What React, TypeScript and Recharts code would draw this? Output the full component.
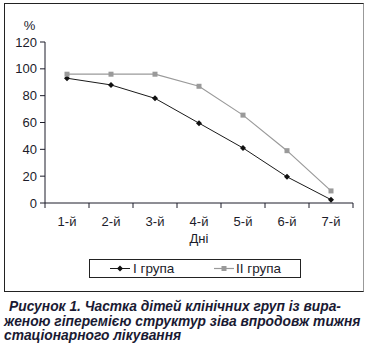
import React from "react";
import { LineChart, Line, XAxis, YAxis } from "recharts";

const days = ["1-й", "2-й", "3-й", "4-й", "5-й", "6-й", "7-й"];
const groupI = [93, 88, 78, 59.5, 41, 19.5, 2.5];
const groupII = [96, 96, 96, 87, 65.5, 39, 9];
const yTicks = [0, 20, 40, 60, 80, 100, 120];
const seriesNames = ["I група", "II група"];
const captionLines = [
  "Рисунок 1. Частка дітей клінічних груп із вира-",
  "женою гіперемією структур зіва впродовж тижня",
  "стаціонарного лікування",
];

const data = days.map((day, i) => ({ pos: i + 0.5, day, g1: groupI[i], g2: groupII[i] }));
// ticks at category boundaries (marks) and centres (labels)
const xTicks = days.flatMap((_, i) => [i, i + 0.5]).concat(days.length);

const FONT = "Arial, 'Liberation Sans', sans-serif";
const INK = "#1c1c2a";
const GREY = "#9a9a9a";

const DayTick = (props: any) => {
  const { x, y, payload } = props;
  const v = payload.value;
  if (Number.isInteger(v)) {
    return <line x1={x} x2={x} y1={y - 14} y2={y - 9} stroke={INK} strokeWidth={1} />;
  }
  return (
    <text x={x} y={y} dy="0.71em" textAnchor="middle" fontSize={13} fill={INK} fontFamily={FONT}>
      {days[Math.floor(v)]}
    </text>
  );
};

const Diamond = (props: any) => {
  const { cx, cy } = props;
  if (cx == null || cy == null) return null;
  return (
    <polygon
      points={`${cx},${cy - 3} ${cx + 3},${cy} ${cx},${cy + 3} ${cx - 3},${cy}`}
      fill="#111"
    />
  );
};

const Square = (props: any) => {
  const { cx, cy } = props;
  if (cx == null || cy == null) return null;
  return <rect x={cx - 2.5} y={cy - 2.5} width={5} height={5} fill={GREY} />;
};

export default function App() {
  return (
    <div
      style={{
        position: "absolute",
        left: 0,
        top: 0,
        width: 368,
        height: 351,
        background: "#fff",
        fontFamily: FONT,
      }}
    >
      <div
        style={{
          position: "absolute",
          left: 4,
          top: 3,
          width: 360,
          height: 289,
          boxSizing: "border-box",
          border: "1px solid #222",
          borderRightColor: "#999",
        }}
      />
      <div style={{ position: "absolute", left: 0, top: 0 }}>
        <LineChart width={368} height={292} data={data} margin={{ top: 42, right: 15, left: 0, bottom: 0 }}>
          <XAxis
            dataKey="pos"
            type="number"
            domain={[0, days.length]}
            ticks={xTicks}
            interval={0}
            tick={<DayTick />}
            tickLine={false}
            tickSize={0}
            tickMargin={14}
            height={89}
            axisLine={{ stroke: INK }}
            label={{ value: "Дні", position: "insideTop", offset: 31, fill: INK, fontSize: 13, fontFamily: FONT }}
          />
          <YAxis
            domain={[0, 120]}
            ticks={yTicks}
            width={45}
            tickSize={5}
            tickMargin={3}
            tick={{ fill: INK, fontSize: 13, fontFamily: FONT }}
            tickLine={{ stroke: INK }}
            axisLine={{ stroke: INK }}
            label={{ value: "%", position: "top", offset: 12, dx: 7, fill: INK, fontSize: 13, fontFamily: FONT }}
          />
          <Line
            dataKey="g1"
            name={seriesNames[0]}
            stroke="#1a1a1a"
            strokeWidth={1}
            dot={<Diamond />}
            activeDot={false}
            isAnimationActive={false}
          />
          <Line
            dataKey="g2"
            name={seriesNames[1]}
            stroke={GREY}
            strokeWidth={1.2}
            dot={<Square />}
            activeDot={false}
            isAnimationActive={false}
          />
        </LineChart>
      </div>
      <div
        style={{
          position: "absolute",
          left: 89,
          top: 259,
          width: 212,
          height: 19,
          boxSizing: "border-box",
          border: "1px solid #222",
          fontSize: 13.5,
          color: INK,
        }}
      >
        <svg width={212} height={19} style={{ position: "absolute", left: -1, top: -1 }}>
          <line x1={21} x2={41} y1={9.5} y2={9.5} stroke="#1a1a1a" />
          <polygon points="31,6.5 34,9.5 31,12.5 28,9.5" fill="#111" />
          <line x1={125} x2={145} y1={9.5} y2={9.5} stroke={GREY} strokeWidth={1.2} />
          <rect x={132.5} y={7} width={5} height={5} fill={GREY} />
        </svg>
        <span style={{ position: "absolute", left: 43, top: 0, lineHeight: "17px" }}>{seriesNames[0]}</span>
        <span style={{ position: "absolute", left: 146, top: 0, lineHeight: "17px" }}>{seriesNames[1]}</span>
      </div>
      <div
        style={{
          position: "absolute",
          left: 4,
          top: 300,
          width: 364,
          fontSize: 13.8,
          fontWeight: "bold",
          fontStyle: "italic",
          lineHeight: "14.5px",
          color: "#1a1a33",
          whiteSpace: "nowrap",
        }}
      >
        {captionLines.map((t, i) => (
          <div key={i} style={{ paddingLeft: i === 0 ? 5 : 0 }}>
            {t}
          </div>
        ))}
      </div>
    </div>
  );
}
